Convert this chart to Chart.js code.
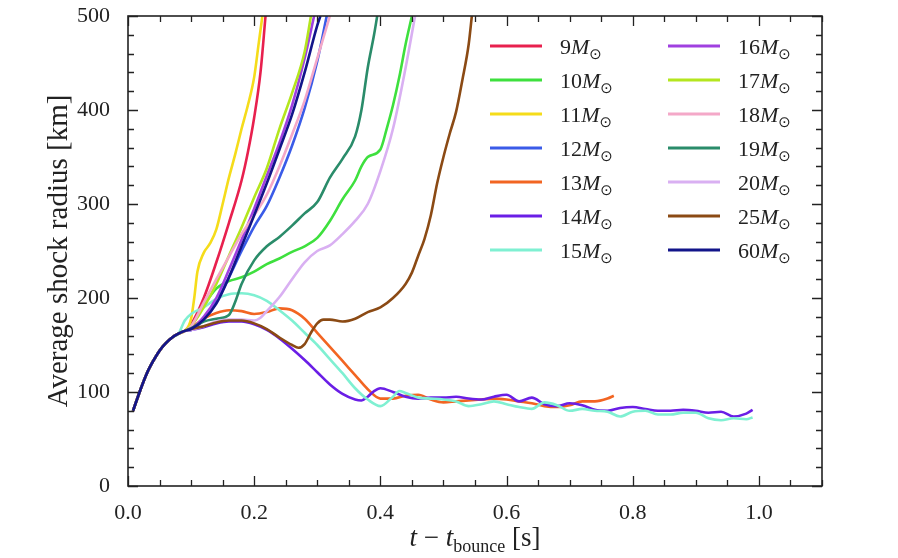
<!DOCTYPE html>
<html>
<head>
<meta charset="utf-8">
<script src="https://cdn.jsdelivr.net/npm/chart.js@4.4.1/dist/chart.umd.min.js"></script>
<style>
  html, body { margin: 0; padding: 0; background: #fff; }
  #chart { display: block; }
</style>
</head>
<body>
<canvas id="chart" width="898" height="558"></canvas>
<script>
// ---- data: [t - t_bounce (s), shock radius (km)] ----
const masses = [9, 10, 11, 12, 13, 14, 15, 16, 17, 18, 19, 20, 25, 60];
const colors = ['#e8204e', '#3ee03e', '#f5dc1a', '#3a5be8', '#f26522', '#6a1ee6', '#7ff0d2',
                '#a040e0', '#b4e61e', '#f4a8c8', '#2a8c6a', '#d9b0f2', '#8b4a14', '#12158a'];
const xTicks = [0.0, 0.2, 0.4, 0.6, 0.8, 1.0];
const yTicks = [0, 100, 200, 300, 400, 500];

// common early rise shared by every model
const rise = [[0.008, 80], [0.02, 103], [0.03, 120], [0.04, 133], [0.05, 144], [0.06, 152],
              [0.07, 158], [0.08, 162], [0.09, 165]];

const m9 = [...rise, [0.1, 172], [0.12, 200], [0.14, 238], [0.16, 280], [0.18, 325], [0.19, 355],
            [0.2, 392], [0.21, 440], [0.218, 500]];
const m10 = [...rise, [0.1, 170], [0.12, 192], [0.14, 210], [0.16, 218], [0.18, 222], [0.2, 228],
             [0.22, 236], [0.24, 242], [0.26, 249], [0.28, 255], [0.3, 264], [0.32, 282], [0.34, 305],
             [0.36, 325], [0.37, 340], [0.38, 350], [0.4, 358], [0.41, 380], [0.42, 405], [0.43, 435],
             [0.44, 470], [0.45, 500]];
const m11 = [...rise, [0.1, 178], [0.105, 200], [0.11, 228], [0.12, 248], [0.13, 258], [0.14, 273],
             [0.15, 300], [0.16, 328], [0.17, 353], [0.18, 380], [0.19, 405], [0.2, 435], [0.207, 470],
             [0.213, 500]];
const m12 = [...rise, [0.1, 166], [0.12, 177], [0.14, 196], [0.16, 222], [0.18, 250], [0.2, 276],
             [0.22, 298], [0.24, 328], [0.26, 362], [0.28, 402], [0.3, 452], [0.315, 500]];
const m13 = [...rise, [0.1, 168], [0.12, 178], [0.14, 184], [0.16, 187], [0.18, 186], [0.2, 183],
             [0.22, 185], [0.24, 189], [0.26, 187], [0.28, 178], [0.3, 163], [0.32, 148], [0.34, 133],
             [0.36, 118], [0.38, 103], [0.4, 93], [0.42, 93], [0.44, 96], [0.46, 97], [0.48, 92],
             [0.5, 89], [0.52, 90], [0.54, 91], [0.56, 92], [0.58, 93], [0.6, 92], [0.62, 90],
             [0.64, 88], [0.66, 85], [0.68, 84], [0.7, 86], [0.72, 90], [0.74, 90], [0.76, 93],
             [0.77, 96]];
const m14 = [...rise, [0.1, 166], [0.12, 169], [0.14, 173], [0.16, 175], [0.18, 175], [0.2, 172],
             [0.22, 166], [0.24, 157], [0.26, 146], [0.28, 134], [0.3, 121], [0.32, 108], [0.34, 98],
             [0.36, 92], [0.37, 91], [0.38, 95], [0.39, 101], [0.4, 104], [0.42, 100], [0.44, 95],
             [0.46, 93], [0.48, 94], [0.5, 94], [0.52, 95], [0.54, 93], [0.56, 92], [0.58, 95],
             [0.6, 97], [0.62, 90], [0.64, 94], [0.66, 87], [0.68, 85], [0.7, 88], [0.72, 86],
             [0.74, 81], [0.76, 80], [0.78, 83], [0.8, 84], [0.82, 82], [0.84, 80], [0.86, 80],
             [0.88, 81], [0.9, 80], [0.92, 78], [0.94, 79], [0.96, 74], [0.98, 77], [0.99, 81]];
const m15 = [...rise.slice(0, 8), [0.09, 176], [0.1, 183], [0.12, 190], [0.14, 199], [0.16, 204],
             [0.18, 205], [0.2, 203], [0.22, 197], [0.24, 187], [0.26, 176], [0.28, 163], [0.3, 150],
             [0.32, 135], [0.34, 120], [0.36, 104], [0.38, 92], [0.4, 85], [0.42, 95], [0.43, 101],
             [0.44, 99], [0.46, 94], [0.48, 93], [0.5, 92], [0.52, 90], [0.54, 85], [0.56, 87],
             [0.58, 90], [0.6, 87], [0.62, 84], [0.64, 82], [0.66, 89], [0.68, 86], [0.7, 80],
             [0.72, 82], [0.74, 80], [0.76, 79], [0.78, 74], [0.8, 79], [0.82, 80], [0.84, 76],
             [0.86, 76], [0.88, 78], [0.9, 78], [0.92, 72], [0.94, 70], [0.96, 72], [0.98, 71],
             [0.99, 73]];
const m16 = [...rise, [0.1, 167], [0.12, 180], [0.14, 200], [0.16, 230], [0.18, 262], [0.2, 295],
             [0.22, 330], [0.24, 365], [0.26, 405], [0.28, 455], [0.295, 500]];
const m17 = [...rise, [0.1, 170], [0.12, 190], [0.14, 215], [0.16, 245], [0.18, 275], [0.2, 307],
             [0.22, 338], [0.24, 380], [0.26, 418], [0.28, 462], [0.29, 500]];
const m18 = [...rise, [0.1, 170], [0.12, 195], [0.14, 220], [0.16, 244], [0.18, 268], [0.2, 288],
             [0.22, 310], [0.24, 340], [0.26, 374], [0.28, 410], [0.3, 455], [0.32, 500]];
const m19 = [...rise, [0.1, 168], [0.12, 175], [0.14, 178], [0.16, 182], [0.17, 196], [0.18, 215],
             [0.2, 240], [0.22, 255], [0.24, 265], [0.26, 277], [0.28, 290], [0.3, 302], [0.32, 328],
             [0.34, 348], [0.36, 372], [0.37, 400], [0.38, 445], [0.39, 480], [0.395, 500]];
const m20 = [...rise, [0.1, 166], [0.12, 170], [0.14, 175], [0.16, 177], [0.18, 177], [0.2, 176],
             [0.21, 179], [0.22, 186], [0.24, 201], [0.26, 220], [0.28, 238], [0.3, 250], [0.32, 256],
             [0.34, 268], [0.36, 282], [0.38, 300], [0.4, 335], [0.42, 380], [0.44, 445], [0.455, 500]];
const m25 = [...rise, [0.1, 167], [0.12, 170], [0.14, 174], [0.16, 176], [0.18, 176], [0.2, 173],
             [0.22, 167], [0.24, 158], [0.26, 150], [0.27, 147], [0.28, 151], [0.29, 163], [0.3, 173],
             [0.31, 177], [0.32, 177], [0.34, 175], [0.36, 178], [0.38, 185], [0.4, 190], [0.42, 200],
             [0.44, 215], [0.45, 227], [0.46, 245], [0.47, 263], [0.48, 288], [0.49, 322], [0.5, 350],
             [0.51, 375], [0.52, 398], [0.53, 432], [0.54, 470], [0.545, 500]];
const m60 = [...rise, [0.1, 167], [0.12, 177], [0.14, 194], [0.16, 222], [0.18, 255], [0.2, 288],
             [0.22, 322], [0.24, 358], [0.26, 395], [0.28, 440], [0.3, 490], [0.305, 500]];

const series = [m9, m10, m11, m12, m13, m14, m15, m16, m17, m18, m19, m20, m25, m60];

const SERIF = "'Liberation Serif', 'DejaVu Serif', serif";
const INK = '#222';

// ---- frame + inward ticks on all four sides (like the matplotlib original) ----
const framePlugin = {
  id: 'frame',
  afterDraw(chart) {
    const { ctx, chartArea: a, scales: { x, y } } = chart;
    ctx.save();
    ctx.strokeStyle = INK;
    ctx.lineWidth = 1.3;
    ctx.beginPath();
    for (let v = 0; v <= 1.1 + 1e-9; v += 0.05) {
      const px = Math.round(x.getPixelForValue(v)) + 0.5;
      const major = Math.abs(v / 0.2 - Math.round(v / 0.2)) < 1e-6;
      const len = major ? 10 : 6;
      ctx.moveTo(px, a.bottom); ctx.lineTo(px, a.bottom - len);
      ctx.moveTo(px, a.top); ctx.lineTo(px, a.top + len);
    }
    for (let v = 0; v <= 500; v += 20) {
      const py = Math.round(y.getPixelForValue(v)) + 0.5;
      const len = v % 100 === 0 ? 10 : 6;
      ctx.moveTo(a.left, py); ctx.lineTo(a.left + len, py);
      ctx.moveTo(a.right, py); ctx.lineTo(a.right - len, py);
    }
    ctx.stroke();
    ctx.lineWidth = 1.6;
    ctx.strokeRect(a.left, a.top, a.right - a.left, a.bottom - a.top);
    ctx.restore();
  }
};

// ---- legend: two columns of seven, "nM⊙" ----
const legendPlugin = {
  id: 'massLegend',
  afterDraw(chart) {
    const { ctx } = chart;
    ctx.save();
    chart.data.datasets.forEach((ds, i) => {
      const col = i < 7 ? 0 : 1;
      const row = i % 7;
      const x0 = col === 0 ? 490 : 668;
      const yc = 46 + row * 34;
      ctx.strokeStyle = ds.borderColor;
      ctx.lineWidth = 3;
      ctx.beginPath();
      ctx.moveTo(x0, yc); ctx.lineTo(x0 + 52, yc);
      ctx.stroke();

      let tx = x0 + 70;
      const base = yc + 8;
      ctx.fillStyle = INK;
      ctx.textBaseline = 'alphabetic';
      ctx.textAlign = 'left';
      ctx.font = `22px ${SERIF}`;
      const num = String(masses[i]);
      ctx.fillText(num, tx, base);
      tx += ctx.measureText(num).width;
      ctx.font = `italic 22px ${SERIF}`;
      ctx.fillText('M', tx, base);
      tx += ctx.measureText('M').width;
      ctx.font = `15px 'DejaVu Sans', sans-serif`;
      ctx.fillText('\u2299', tx, base + 5);
    });
    ctx.restore();
  }
};

// ---- x title with subscript ----
const xTitlePlugin = {
  id: 'xTitle',
  afterDraw(chart) {
    const { ctx, chartArea: a } = chart;
    const parts = [
      { t: 't', f: `italic 27px ${SERIF}`, dy: 0 },
      { t: ' \u2212 ', f: `27px ${SERIF}`, dy: 0 },
      { t: 't', f: `italic 27px ${SERIF}`, dy: 0 },
      { t: 'bounce', f: `18px ${SERIF}`, dy: 6 },
      { t: ' [s]', f: `27px ${SERIF}`, dy: 0 }
    ];
    ctx.save();
    ctx.fillStyle = INK;
    ctx.textBaseline = 'alphabetic';
    ctx.textAlign = 'left';
    let w = 0;
    parts.forEach(p => { ctx.font = p.f; p.w = ctx.measureText(p.t).width; w += p.w; });
    let tx = (a.left + a.right) / 2 - w / 2;
    const base = 546;
    parts.forEach(p => {
      ctx.font = p.f;
      ctx.fillText(p.t, tx, base + p.dy);
      tx += p.w;
    });
    ctx.restore();
  }
};

const datasets = series.map((pts, i) => ({
  label: masses[i] + 'M\u2299',
  data: pts.map(([t, r]) => ({ x: t, y: r })),
  borderColor: colors[i],
  backgroundColor: colors[i],
  borderWidth: 2.6,
  pointRadius: 0,
  cubicInterpolationMode: 'monotone',
  fill: false,
  order: series.length - i   // later models drawn on top, as in the original
}));

new Chart(document.getElementById('chart'), {
  type: 'line',
  data: { datasets },
  options: {
    responsive: false,
    animation: false,
    devicePixelRatio: 1,
    layout: { padding: { top: 16, right: 76, left: 0, bottom: 0 } },
    plugins: {
      legend: { display: false },
      tooltip: { enabled: false }
    },
    scales: {
      x: {
        type: 'linear',
        min: 0,
        max: 1.1,
        afterFit(s) { s.height = 72; s.paddingLeft = 0; s.paddingRight = 0; },
        afterBuildTicks(s) { s.ticks = xTicks.map(v => ({ value: v })); },
        border: { display: false },
        grid: { display: false },
        ticks: {
          padding: 6,
          maxRotation: 0,
          autoSkip: false,
          color: INK,
          font: { family: SERIF, size: 22 },
          callback: v => Number(v).toFixed(1)
        }
      },
      y: {
        type: 'linear',
        min: 0,
        max: 500,
        afterFit(s) { s.width = 128; s.paddingTop = 0; s.paddingBottom = 0; },
        afterBuildTicks(s) { s.ticks = yTicks.map(v => ({ value: v })); },
        border: { display: false },
        grid: { display: false },
        ticks: {
          padding: 10,
          color: INK,
          font: { family: SERIF, size: 22 }
        },
        title: {
          display: true,
          text: 'Average shock radius [km]',
          color: INK,
          font: { family: SERIF, size: 29 },
          padding: { top: 42, bottom: 0 }
        }
      }
    }
  },
  plugins: [framePlugin, legendPlugin, xTitlePlugin]
});
</script>
</body>
</html>
